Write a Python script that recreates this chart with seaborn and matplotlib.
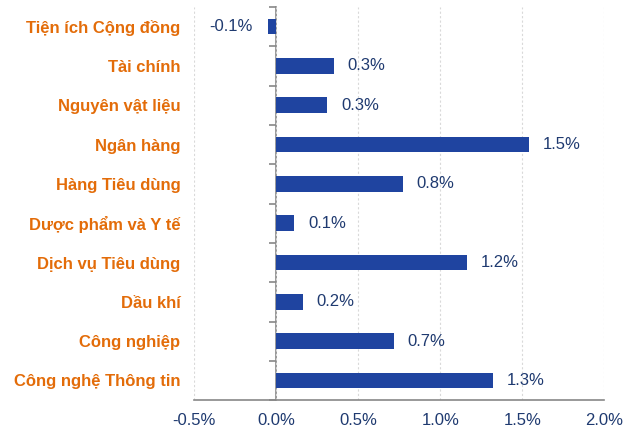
import matplotlib
matplotlib.use("Agg")
import matplotlib.pyplot as plt
import seaborn as sns
import pandas as pd
import numpy as np

categories = ["Tiện ích Cộng đồng", "Tài chính", "Nguyên vật liệu", "Ngân hàng",
              "Hàng Tiêu dùng", "Dược phẩm và Y tế", "Dịch vụ Tiêu dùng", "Dầu khí",
              "Công nghiệp", "Công nghệ Thông tin"]
values = [-0.05, 0.35, 0.31, 1.54, 0.77, 0.11, 1.16, 0.16, 0.715, 1.32]
value_labels = ["-0.1%", "0.3%", "0.3%", "1.5%", "0.8%", "0.1%", "1.2%", "0.2%", "0.7%", "1.3%"]
xticks = [-0.5, 0.0, 0.5, 1.0, 1.5, 2.0]
xtick_labels = ["-0.5%", "0.0%", "0.5%", "1.0%", "1.5%", "2.0%"]

sns.set_theme(style="white")
plt.rcParams['font.family'] = ['Liberation Sans', 'DejaVu Sans']

df = pd.DataFrame({"cat": categories, "val": values})

fig = plt.figure(figsize=(6.23, 4.34), dpi=100)
ax = fig.add_axes([0.312, 0.078, 0.658, 0.906])

bar_color = "#1F44A0"
sns.barplot(data=df, x="val", y="cat", color=bar_color, width=0.4, ax=ax,
            saturation=1, edgecolor="none")

ax.set_xlim(-0.5, 2.0)
ax.set_ylim(len(categories) - 0.5, -0.5)
ax.set_xlabel("")
ax.set_ylabel("")

navy = "#1F3A70"
ax.set_xticks(xticks)
ax.set_xticklabels(xtick_labels, color=navy, fontsize=12)
ax.tick_params(axis="x", length=5, width=1.2, color="#888888", direction="out", pad=4)

ax.tick_params(axis="y", length=0, pad=10)
for lbl in ax.get_yticklabels():
    lbl.set_color("#E36C09")
    lbl.set_fontweight("bold")
    lbl.set_fontsize(12)

for s in ["top", "right", "left"]:
    ax.spines[s].set_visible(False)
ax.spines["bottom"].set_color("#888888")
ax.spines["bottom"].set_linewidth(1.2)

ax.grid(axis="x", color="#D9D9D9", linestyle=(0, (2, 2)), linewidth=0.8)
ax.set_axisbelow(True)

# y axis at zero
sec = ax.secondary_yaxis(0.2)
sec.set_yticks(np.arange(-0.5, len(categories) + 0.5, 1.0))
sec.set_yticklabels([])
sec.tick_params(length=5, width=1.2, color="#888888", direction="out")
sec.spines["left"].set_color("#888888")
sec.spines["left"].set_linewidth(1.2)
for s in ["top", "right", "bottom"]:
    if s in sec.spines:
        sec.spines[s].set_visible(False)

for i, (v, t) in enumerate(zip(values, value_labels)):
    if v >= 0:
        ax.annotate(t, (v, i), xytext=(14, 0), textcoords="offset pixels",
                    ha="left", va="center", color=navy, fontsize=12)
    else:
        ax.annotate(t, (v, i), xytext=(-16, 0), textcoords="offset pixels",
                    ha="right", va="center", color=navy, fontsize=12)

fig.savefig("out.png", dpi=100)
